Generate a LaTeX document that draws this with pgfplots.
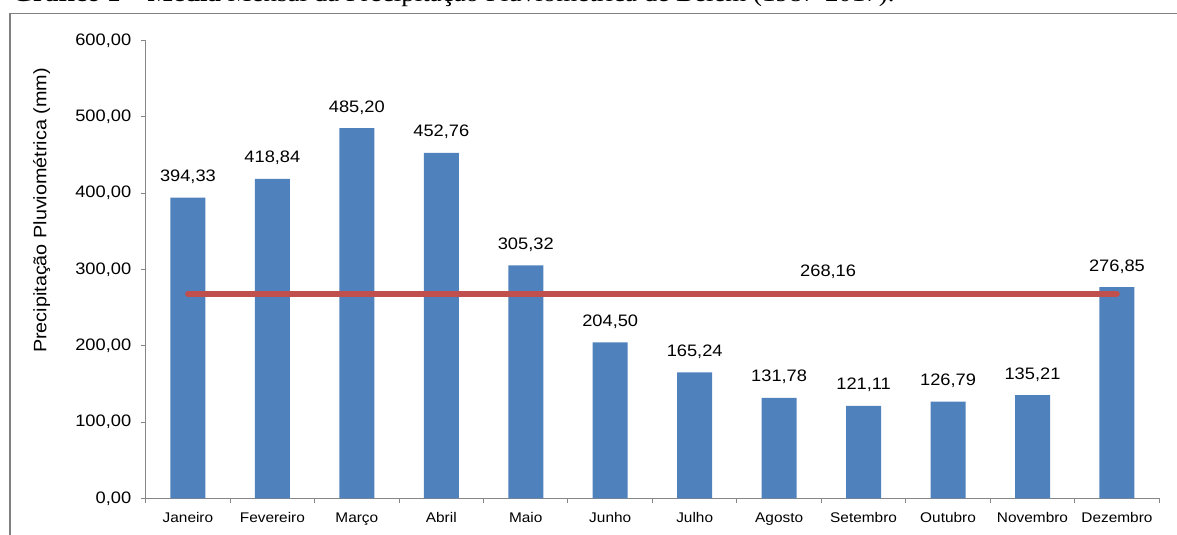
\documentclass[border=0pt]{standalone}
\usepackage{fontspec}
\setmainfont{Liberation Sans}[FakeStretch=1.1]
\newfontfamily\titlefont{Liberation Serif}[FakeStretch=1.1]
\usepackage{pgfplots}
\pgfplotsset{compat=1.18}
\definecolor{barblue}{HTML}{4F81BD}
\definecolor{linered}{HTML}{C0504D}
\definecolor{axisgray}{HTML}{868686}
\definecolor{framegray}{HTML}{808080}

\begin{document}
\begin{tikzpicture}
\useasboundingbox (0pt,0pt) rectangle (1177pt,535pt);
\clip (0pt,0pt) rectangle (1177pt,535pt);
% title, cut off at the top as in the source
\node[anchor=base west, inner sep=0pt, font=\titlefont\fontsize{24.5}{26}\selectfont]
  at (12pt,533pt) {\textbf{Gráfico 1 – Média} Mensal da Precipitação Pluviométrica de Belém (1987-2017).};
\draw[framegray, line width=1.4pt] (10pt,-5pt) -- (10pt,521.5pt) -- (1190pt,521.5pt);
\begin{axis}[
  at={(145.7pt,36.7pt)}, anchor=south west,
  scale only axis, width=1013.5pt, height=457.6pt,
  xmin=-0.5, xmax=11.5, ymin=0, ymax=600,
  axis lines*=left,
  axis line style={axisgray, line width=1pt},
  every tick/.style={axisgray, line width=1pt},
  tick align=outside,
  xtick={0,...,11},
  xticklabels={Janeiro,Fevereiro,Março,Abril,Maio,Junho,Julho,Agosto,Setembro,Outubro,Novembro,Dezembro},
  major x tick style={draw=none},
  minor xtick={-0.5,0.5,...,11.5},
  minor tick length=5pt,
  ytick={0,100,...,600},
  major tick length=5pt,
  xticklabel style={font=\fontsize{14}{16}\selectfont, yshift=-6pt},
  yticklabel style={font=\fontsize{16.6}{18}\selectfont, xshift=-6pt},
  /pgf/number format/.cd, fixed, fixed zerofill, precision=2, use comma, 1000 sep={}, assume math mode=true,
  /pgfplots/.cd,
  ylabel={Precipitação Pluviométrica (mm)},
  every axis y label/.style={at={(axis description cs:-0.1026,0.629)}, rotate=90, anchor=center,
    font=\fontsize{18}{20}\selectfont},
  clip=false,
]
\addplot[ybar, bar width=35pt, fill=barblue, draw=none,
  nodes near coords,
  every node near coord/.append style={anchor=base, yshift=16pt, text=black,
    font=\fontsize{16.6}{18}\selectfont}]
  coordinates {(0,394.33) (1,418.84) (2,485.20) (3,452.76) (4,305.32) (5,204.50)
               (6,165.24) (7,131.78) (8,121.11) (9,126.79) (10,135.21) (11,276.85)};
\addplot[linered, line width=5.7pt, line cap=round]
  coordinates {(0,268.16) (11,268.16)};
\node[anchor=base, yshift=17pt, font=\fontsize{16.6}{18}\selectfont] at (axis cs:7.58,268.16) {268,16};
\end{axis}
\end{tikzpicture}
\end{document}
